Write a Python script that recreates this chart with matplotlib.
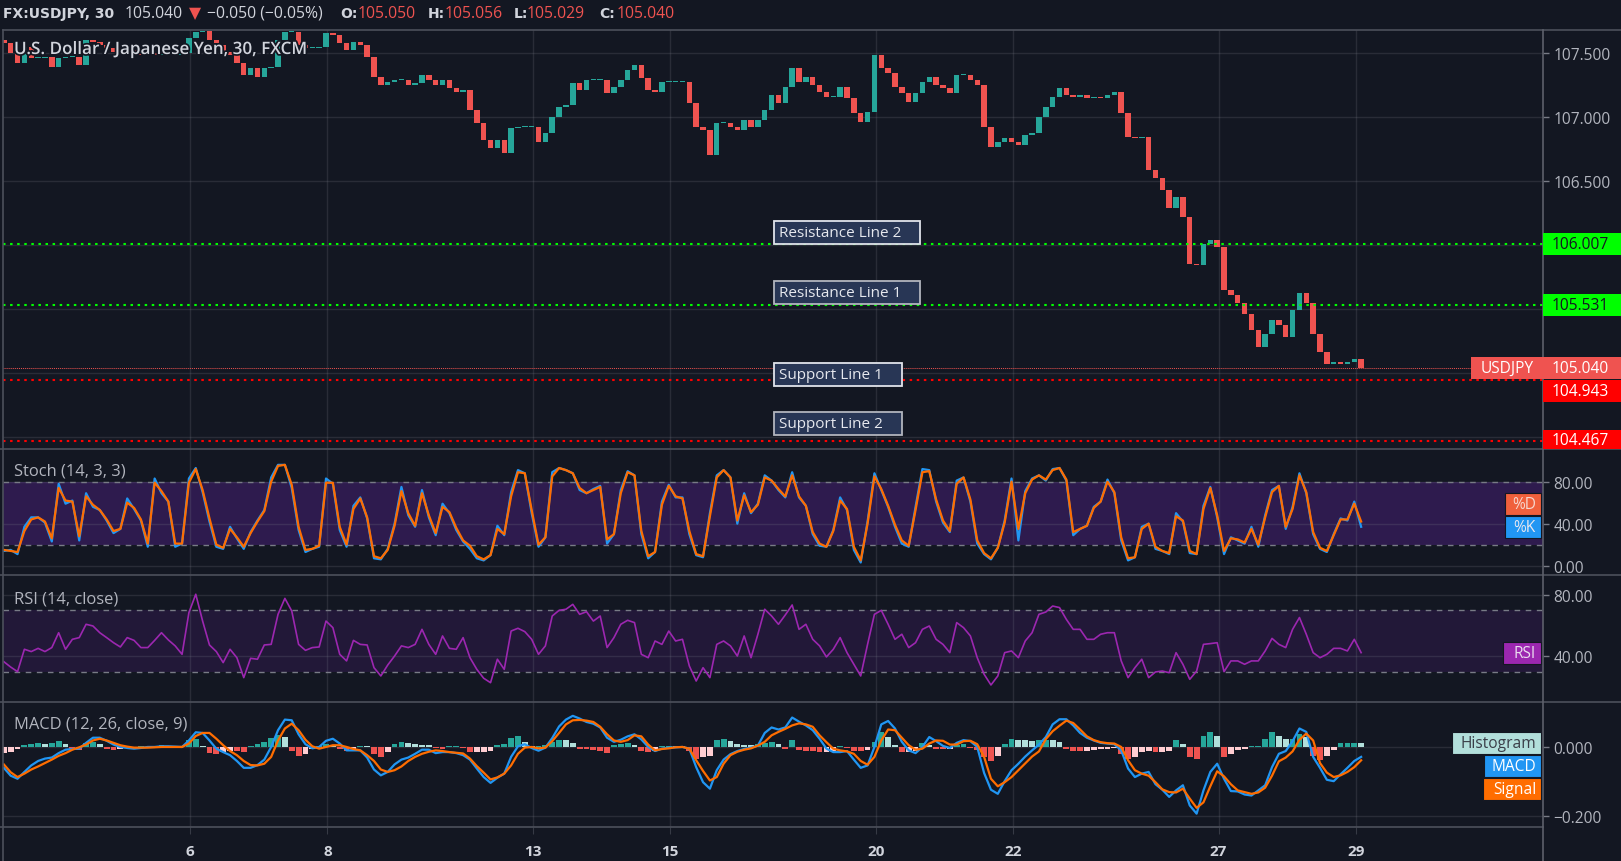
import matplotlib
matplotlib.use('Agg')
import matplotlib.pyplot as plt
import matplotlib.patheffects as pe
from matplotlib.patches import Rectangle
from matplotlib.lines import Line2D
import numpy as np

W, H = 1621, 862
BG = '#131722'
GRIDC = '#787b86'
SEP = '#4c505b'
TXT = '#b2b5be'
UP, DOWN = '#26a69a', '#ef5350'
plt.rcParams['font.family'] = ['Open Sans', 'DejaVu Sans']

# ---- data: USDJPY 30m, read every 0.1 trading day (x = trading days from Oct 6) ----
T0, STEP = -2.72, 0.1
day_ticks = [0, 2, 5, 7, 10, 12, 15, 17]
day_labels = ['6', '8', '13', '15', '20', '22', '27', '29']

first_open = 107.60
close_px = [
    107.573, 107.495, 107.417, 107.547, 107.456, 107.456, 107.469, 107.390, 107.456, 107.469,
    107.469, 107.404, 107.599, 107.586, 107.560, 107.534, 107.508, 107.508, 107.521, 107.495,
    107.482, 107.495, 107.482, 107.495, 107.482, 107.482, 107.495, 107.612, 107.664, 107.672,
    107.599, 107.560, 107.508, 107.482, 107.417, 107.325, 107.377, 107.312, 107.377, 107.390,
    107.599, 107.664, 107.664, 107.560, 107.534, 107.534, 107.547, 107.651, 107.638, 107.573,
    107.521, 107.586, 107.560, 107.469, 107.312, 107.247, 107.273, 107.286, 107.286, 107.247,
    107.260, 107.325, 107.286, 107.247, 107.286, 107.221, 107.195, 107.208,
    107.052, 106.948, 106.818, 106.753, 106.818, 106.713, 106.909, 106.922, 106.922, 106.922,
    106.805, 106.870, 107.000, 107.078, 107.091, 107.260, 107.208, 107.286, 107.286, 107.286,
    107.182, 107.234, 107.286, 107.365, 107.404, 107.299, 107.208, 107.195, 107.273, 107.273,
    107.273, 107.273, 107.104, 106.922, 106.896, 106.700, 106.948, 106.948, 106.922, 106.896,
    106.974, 106.922, 106.974, 107.052, 107.169, 107.104, 107.234, 107.378, 107.273, 107.312,
    107.247, 107.195, 107.156, 107.156, 107.234, 107.143, 107.026, 106.961, 107.039, 107.480,
    107.378, 107.339, 107.234,
    107.182, 107.117, 107.182, 107.273, 107.312, 107.247, 107.221, 107.182, 107.325, 107.325,
    107.286, 107.247, 106.922, 106.765, 106.805, 106.831, 106.805, 106.778, 106.857, 106.870,
    107.000, 107.078, 107.156, 107.221, 107.169, 107.156, 107.169, 107.143, 107.156, 107.143,
    107.169, 107.195, 107.026, 106.844, 106.831, 106.844, 106.583, 106.518, 106.427, 106.284,
    106.375, 106.219, 105.854, 105.841, 106.010, 106.036, 105.984, 105.646, 105.607, 105.542,
    105.463, 105.333, 105.203, 105.307, 105.411, 105.372, 105.281, 105.490, 105.620, 105.542,
    105.307, 105.164, 105.073, 105.086, 105.073, 105.086, 105.112, 105.040,
]

stoch_k = [
    14, 15, 11, 37, 46, 46, 41, 23, 78, 59, 62, 24, 69, 56, 53, 43, 31, 35, 64, 54,
    43, 18, 83, 69, 61, 18, 21, 83, 93, 70, 42, 18, 16, 37, 26, 16, 32, 43, 53, 84,
    96, 96, 74, 34, 13, 16, 18, 83, 78, 34, 18, 57, 65, 45, 7, 6, 16, 40, 75, 48,
    37, 72, 46, 29, 59, 50, 34, 23,
    16, 7, 5, 10, 38, 29, 70, 91, 88, 50, 18, 27, 89, 93, 91, 88, 72, 69, 73, 76,
    21, 30, 72, 90, 86, 30, 7, 13, 61, 77, 65, 65, 30, 10, 8, 50, 86, 91, 84, 40,
    69, 50, 59, 86, 81, 72, 65, 89, 65, 57, 30, 19, 18, 34, 65, 53, 15, 3, 42, 88,
    72, 56, 37,
    21, 18, 56, 92, 91, 61, 41, 32, 81, 84, 61, 21, 11, 6, 17, 43, 83, 24, 71, 83,
    86, 81, 92, 93, 81, 29, 35, 38, 56, 61, 82, 69, 24, 5, 8, 37, 40, 16, 14, 11,
    50, 42, 12, 11, 57, 75, 46, 11, 27, 24, 21, 37, 18, 48, 72, 76, 35, 56, 88, 69,
    30, 16, 13, 30, 45, 43, 61, 37,
]
stoch_d = [
    15, 14, 13, 33, 44, 46, 42, 26, 74, 62, 61, 28, 66, 58, 53, 44, 33, 35, 60, 55,
    44, 21, 79, 71, 61, 21, 21, 79, 92, 72, 45, 20, 17, 35, 27, 18, 31, 42, 52, 80,
    95, 96, 77, 37, 15, 16, 19, 79, 79, 37, 20, 54, 64, 46, 9, 7, 15, 38, 71, 50,
    38, 69, 48, 31, 56, 51, 36, 24,
    19, 9, 6, 10, 35, 30, 66, 89, 88, 53, 20, 27, 85, 93, 91, 88, 74, 69, 72, 75,
    25, 30, 69, 89, 86, 33, 9, 13, 58, 76, 66, 64, 33, 11, 9, 47, 84, 91, 84, 43,
    67, 51, 58, 84, 81, 73, 66, 86, 66, 57, 32, 21, 18, 33, 62, 54, 18, 5, 40, 85,
    73, 57, 39,
    24, 19, 53, 89, 90, 63, 43, 33, 78, 84, 63, 24, 12, 7, 17, 41, 80, 35, 69, 82,
    86, 82, 91, 93, 82, 32, 35, 38, 55, 61, 80, 70, 27, 7, 8, 35, 40, 18, 14, 12,
    47, 43, 14, 11, 54, 74, 48, 14, 26, 25, 22, 35, 20, 46, 70, 76, 37, 54, 86, 70,
    32, 17, 14, 29, 44, 44, 59, 42,
]

rsi = [
    36.5, 33.0, 30.0, 44.6, 43.1, 45.2, 43.1, 45.7, 55.4, 44.6, 51.1, 52.2, 60.9, 59.8, 55.4,
    52.2, 48.9, 46.1, 52.2, 50.4, 45.7, 45.7, 50.4, 55.4, 50.7, 46.8, 41.3, 68.5, 80.5, 63.0,
    47.4, 43.1, 35.9, 44.6, 39.1, 26.1, 38.7, 38.1, 47.4, 47.8, 67.4, 77.8, 69.6, 47.8, 43.9,
    45.7, 46.1, 63.0, 58.7, 41.3, 37.0, 50.4, 47.8, 47.4, 32.6, 27.2, 34.3, 40.2, 46.8, 45.7,
    47.8, 57.6, 47.8, 41.3, 53.3, 45.2, 44.6, 52.2,
    39.1, 31.5, 25.7, 22.8, 38.1, 31.5, 56.5, 58.3, 56.1, 51.1, 41.3, 46.8, 66.3, 70.0, 70.7,
    73.9, 67.4, 69.1, 63.0, 66.3, 45.7, 52.2, 60.9, 63.5, 62.0, 41.3, 39.1, 50.0, 47.8, 56.5,
    50.0, 51.1, 33.7, 23.9, 32.6, 26.1, 47.8, 50.0, 46.8, 40.2, 53.3, 39.1, 54.4, 70.7, 66.3,
    60.9, 67.0, 73.5, 57.6, 60.9, 51.1, 46.8, 39.6, 44.6, 52.2, 42.4, 34.8, 27.2, 47.8, 67.4,
    70.0, 60.9, 51.1,
    54.4, 45.7, 48.9, 57.6, 59.8, 51.1, 47.8, 42.4, 62.0, 58.7, 53.3, 39.1, 28.3, 21.3, 27.2,
    42.4, 43.5, 39.1, 50.0, 55.4, 67.4, 68.9, 72.8, 71.8, 64.1, 57.6, 57.6, 51.1, 51.1, 54.4,
    55.4, 55.4, 37.0, 26.1, 32.6, 38.1, 26.1, 29.8, 30.4, 29.3, 42.4, 34.8, 25.0, 30.4, 47.8,
    48.3, 48.9, 30.0, 37.0, 37.0, 34.8, 37.0, 37.0, 43.5, 51.7, 47.8, 45.7, 57.6, 65.3, 54.4,
    42.4, 39.1, 41.3, 45.2, 45.2, 43.5, 51.1, 42.4,
]

macd = [
    -0.060, -0.083, -0.092, -0.072, -0.053, -0.040, -0.033, -0.030, -0.017, -0.007,
    -0.005, -0.004, 0.013, 0.028, 0.028, 0.019, 0.008, 0.001, -0.002, -0.004,
    -0.002, 0.001, 0.001, 0.003, 0.003, 0.002, 0.001, 0.020, 0.044, 0.042,
    0.020, -0.004, -0.014, -0.023, -0.040, -0.060, -0.060, -0.052, -0.036, 0.001,
    0.050, 0.081, 0.079, 0.038, 0.009, -0.003, 0.001, 0.019, 0.025, 0.011,
    -0.009, -0.009, -0.009, -0.030, -0.065, -0.082, -0.072, -0.050, -0.036, -0.030,
    -0.019, -0.007, -0.007, -0.017, -0.014, -0.014, -0.017, -0.023,
    -0.036, -0.062, -0.087, -0.104, -0.089, -0.077, -0.028, 0.003, 0.009, -0.002,
    -0.010, -0.001, 0.027, 0.061, 0.081, 0.092, 0.084, 0.074, 0.069, 0.058,
    0.028, 0.016, 0.022, 0.032, 0.038, 0.023, 0.001, -0.011, -0.004, -0.001,
    0.000, 0.001, -0.004, -0.058, -0.102, -0.121, -0.067, -0.036, -0.020, -0.011,
    -0.005, -0.001, 0.005, 0.042, 0.058, 0.052, 0.058, 0.087, 0.075, 0.064,
    0.050, 0.025, -0.004, -0.014, -0.014, -0.011, -0.036, -0.060, -0.053, 0.001,
    0.067, 0.077, 0.055,
    0.016, -0.009, -0.017, 0.001, 0.030, 0.018, 0.004, -0.002, 0.013, 0.021,
    0.018, 0.001, -0.075, -0.124, -0.136, -0.099, -0.067, -0.048, -0.027, -0.009,
    0.008, 0.030, 0.067, 0.082, 0.082, 0.064, 0.042, 0.028, 0.020, 0.013,
    0.011, 0.009, -0.009, -0.062, -0.087, -0.077, -0.072, -0.108, -0.124, -0.145,
    -0.126, -0.111, -0.170, -0.194, -0.126, -0.072, -0.048, -0.092, -0.128, -0.129,
    -0.138, -0.141, -0.126, -0.111, -0.058, -0.019, -0.011, 0.018, 0.055, 0.045,
    -0.028, -0.060, -0.095, -0.099, -0.079, -0.060, -0.040, -0.028,
]
signal = [
    -0.050, -0.073, -0.087, -0.077, -0.065, -0.056, -0.046, -0.036, -0.025, -0.017,
    -0.007, 0.000, 0.008, 0.020, 0.025, 0.020, 0.013, 0.006, 0.002, -0.001,
    -0.001, -0.001, 0.000, 0.001, 0.001, 0.001, 0.001, 0.011, 0.033, 0.042,
    0.042, 0.025, 0.006, -0.011, -0.023, -0.040, -0.052, -0.053, -0.048, -0.028,
    0.020, 0.055, 0.069, 0.050, 0.022, 0.003, -0.004, 0.001, 0.006, 0.006,
    0.001, -0.005, -0.009, -0.023, -0.040, -0.065, -0.072, -0.067, -0.056, -0.040,
    -0.028, -0.019, -0.013, -0.009, -0.011, -0.014, -0.016, -0.018,
    -0.033, -0.055, -0.074, -0.094, -0.088, -0.077, -0.053, -0.019, -0.001, 0.001,
    -0.003, -0.001, 0.018, 0.042, 0.067, 0.079, 0.080, 0.078, 0.074, 0.060,
    0.038, 0.020, 0.016, 0.021, 0.035, 0.032, 0.008, -0.009, -0.005, -0.003,
    0.000, 0.001, -0.004, -0.038, -0.069, -0.097, -0.087, -0.048, -0.023, -0.013,
    -0.007, -0.003, 0.005, 0.016, 0.035, 0.045, 0.054, 0.064, 0.070, 0.067,
    0.060, 0.035, 0.015, -0.004, -0.009, -0.012, -0.019, -0.040, -0.051, -0.028,
    0.020, 0.052, 0.050,
    0.028, 0.006, -0.007, -0.004, 0.011, 0.020, 0.019, 0.008, 0.008, 0.018,
    0.019, 0.009, -0.028, -0.092, -0.114, -0.102, -0.087, -0.067, -0.047, -0.027,
    -0.012, 0.024, 0.047, 0.063, 0.078, 0.071, 0.052, 0.032, 0.021, 0.015,
    0.012, 0.011, 0.001, -0.038, -0.067, -0.077, -0.083, -0.102, -0.123, -0.131,
    -0.132, -0.121, -0.150, -0.177, -0.161, -0.114, -0.070, -0.085, -0.108, -0.126,
    -0.131, -0.136, -0.132, -0.118, -0.083, -0.041, -0.030, -0.012, 0.022, 0.040,
    0.020, -0.046, -0.074, -0.087, -0.082, -0.072, -0.058, -0.038,
]
hist = [
    -0.018, -0.015, -0.005, 0.006, 0.010, 0.012, 0.010, 0.012, 0.018, 0.010,
    -0.006, -0.008, 0.012, 0.015, 0.010, -0.005, -0.008, -0.004, 0.003, 0.002,
    0.003, 0.002, 0.004, 0.006, 0.005, 0.003, 0.003, 0.020, 0.024, 0.005,
    -0.018, -0.020, -0.015, -0.010, -0.012, -0.015, 0.005, 0.010, 0.015, 0.027,
    0.037, 0.031, -0.010, -0.024, -0.020, -0.005, 0.005, 0.010, 0.008, -0.005,
    -0.010, -0.006, 0.005, 0.003, -0.020, -0.027, -0.015, 0.010, 0.015, 0.012,
    0.010, 0.008, 0.006, -0.003, -0.004, 0.003, 0.004, -0.003,
    -0.015, -0.015, -0.014, -0.012, 0.006, 0.010, 0.027, 0.033, 0.015, 0.003,
    0.004, 0.008, 0.015, 0.021, 0.020, 0.012, -0.004, -0.006, -0.008, -0.010,
    -0.016, 0.008, 0.010, 0.012, 0.006, -0.010, -0.015, -0.012, 0.004, 0.005,
    0.004, 0.003, -0.010, -0.034, -0.029, -0.024, 0.020, 0.024, 0.018, 0.010,
    0.008, 0.006, 0.010, 0.012, 0.015, 0.010, -0.005, 0.020, -0.008, -0.010,
    -0.012, -0.015, -0.014, -0.012, 0.005, -0.003, -0.010, -0.012, -0.008, 0.015,
    0.044, 0.029, 0.008,
    -0.015, -0.015, -0.010, 0.012, 0.008, -0.005, -0.006, -0.004, 0.008, 0.010,
    -0.003, -0.008, -0.029, -0.041, -0.024, 0.010, 0.024, 0.021, 0.020, 0.018,
    0.020, 0.021, 0.020, 0.015, -0.005, -0.010, -0.012, -0.010, -0.008, -0.006,
    -0.004, -0.003, -0.020, -0.034, -0.027, -0.015, -0.012, -0.015, -0.015, -0.010,
    0.020, 0.010, -0.029, -0.034, 0.034, 0.044, 0.034, -0.029, -0.020, -0.008,
    -0.006, 0.005, 0.005, 0.024, 0.044, 0.034, 0.024, 0.024, 0.039, 0.029,
    -0.024, -0.037, -0.024, -0.008, 0.012, 0.012, 0.014, 0.012,
]

level_names = ['Resistance Line 2', 'Resistance Line 1', 'Support Line 1', 'Support Line 2']
level_values = [106.007, 105.531, 104.943, 104.467]
level_colors = ['#00ff00', '#00ff00', '#ff0000', '#ff0000']
note_prices = [106.094, 105.629, 104.988, 104.605]   # where the text notes sit
note_day = 8.515
last_price = 105.040

# ---------------------------------------------------------------------------
def xs(series):
    return T0 + STEP * np.arange(len(series))

fig = plt.figure(figsize=(W / 100, H / 100), dpi=100, facecolor=BG)

def fx(x):
    return x / W

def fy(y):
    return 1 - y / H

def panel(top, bottom, ylim, yticks, ylabels):
    ax = fig.add_axes([fx(3), fy(bottom), 1540 / W, (bottom - top) / H], facecolor=BG)
    ax.set_xlim(-2.732, 19.733)
    ax.set_ylim(*ylim)
    for s in ax.spines.values():
        s.set_visible(False)
    ax.set_xticks(day_ticks)
    ax.set_yticks(yticks)
    ax.set_yticklabels(ylabels)
    ax.grid(True, color=GRIDC, alpha=0.22, lw=1)
    ax.yaxis.tick_right()
    ax.tick_params(axis='y', length=4, width=1, color='#787b86', pad=3.5,
                   labelsize=11.2, labelcolor=TXT)
    ax.tick_params(axis='x', length=0, labelbottom=False)
    return ax

ax_p = panel(31, 450, (104.406, 107.677), [104.5, 105.0, 105.5, 106.0, 106.5, 107.0, 107.5],
             ['', '', '', '', '106.500', '107.000', '107.500'])
ax_s = panel(450, 576, (-8.9, 111.1), [0, 40, 80], ['0.00', '40.00', '80.00'])
ax_r = panel(576, 702.7, (10.4, 93.05), [40, 80], ['40.00', '80.00'])
ax_m = panel(702.7, 828, (-0.233, 0.1333), [-0.2, 0.0], ['\u22120.200', '0.000'])

# ---- candles ----
c = np.array(close_px)
o = np.concatenate([[first_open], c[:-1]])
ccol = [UP if cc >= oo else DOWN for oo, cc in zip(o, c)]
ax_p.bar(xs(c), np.maximum(np.abs(c - o), 0.008), bottom=np.minimum(o, c), width=0.08,
         color=ccol, linewidth=0, zorder=3)

for v, col in zip(level_values, level_colors):
    ax_p.axhline(v, color=col, lw=1.5, ls=(0, (1.2, 2.2)), zorder=4)
ax_p.axhline(last_price, color='#ef5350', lw=0.7, ls=(0, (1, 1)), zorder=4)

# ---- stochastic ----
ax_s.axhspan(20, 80, color='#2e1b4e', zorder=0.5, lw=0)
for v in (20, 80):
    ax_s.axhline(v, color='#787b86', lw=1, ls=(0, (4, 4)), zorder=1.6)
ax_s.plot(xs(stoch_k), stoch_k, color='#2196f3', lw=1.6, zorder=3)
ax_s.plot(xs(stoch_d), stoch_d, color='#ff6d00', lw=1.6, zorder=3)

# ---- RSI ----
ax_r.axhspan(30, 70, color='#221838', zorder=0.5, lw=0)
for v in (30, 70):
    ax_r.axhline(v, color='#787b86', lw=1, ls=(0, (4, 4)), zorder=1.6)
ax_r.plot(xs(rsi), rsi, color='#9c27b0', lw=1.2, zorder=3)

# ---- MACD ----
hv = np.array(hist)
prev = np.concatenate([[hv[0]], hv[:-1]])
hcol = []
for v, p in zip(hv, prev):
    if v >= 0:
        hcol.append('#26a69a' if v >= p else '#b2dfdb')
    else:
        hcol.append('#ef5350' if v < p else '#ffcdd2')
ax_m.bar(xs(hv), hv, width=0.085, color=hcol, linewidth=0, zorder=2)
ax_m.plot(xs(macd), macd, color='#2196f3', lw=1.6, zorder=3)
ax_m.plot(xs(signal), signal, color='#ff6d00', lw=1.6, zorder=3)

ax_m.tick_params(axis='x', length=5, color='#363a45', pad=7, labelbottom=True,
                 labelsize=11, labelcolor='#d1d4dc')
ax_m.set_xticklabels(day_labels, fontweight='bold')

# ---- frame lines ----
def fline(x0, x1, y0, y1, color=SEP, lw=1.2):
    fig.add_artist(Line2D([fx(x0), fx(x1)], [fy(y0), fy(y1)], color=color, lw=lw,
                          transform=fig.transFigure, zorder=6))

fline(3, W, 31, 31)
for y in (450, 576, 702.7):
    fline(0, W, y, y)
fline(0, 1543, 828, 828)
fline(1543, 1543, 31, H, color='#5d606b')
fline(3, 3, 31, H, color='#4c505b')

# ---- helpers for labels ----
def ypix(ax, v):
    return H - ax.transData.transform((0, v))[1]

def fig_box(x0, x1, y0, y1, face, edge='none', lw=0, z=7):
    fig.add_artist(Rectangle((fx(x0), fy(y1)), (x1 - x0) / W, (y1 - y0) / H,
                             transform=fig.transFigure, facecolor=face, edgecolor=edge,
                             lw=lw, zorder=z))

BOXH = 22
LBL = 11.2
# last price
yl = ypix(ax_p, last_price)
fig_box(1471, W, yl - BOXH / 2, yl + BOXH / 2, '#ef5350')
fig.text(fx(1481), fy(yl), 'USDJPY', color='white', va='center', fontsize=LBL, zorder=8)
fig.text(fx(1552), fy(yl), f'{last_price:.3f}', color='white', va='center', fontsize=LBL, zorder=8)
last_bottom = yl + BOXH / 2

for v, col in zip(level_values, level_colors):
    yc = ypix(ax_p, v)
    if abs(yc - yl) < BOXH:
        yc = last_bottom + BOXH / 2 + 1
    y0, y1 = yc - BOXH / 2, min(yc + BOXH / 2, 450)
    fig_box(1543, W, y0, y1, col)
    tc = '#131722' if col == '#00ff00' else 'white'
    fig.text(fx(1552), fy((y0 + y1) / 2), f'{v:.3f}', color=tc, va='center', fontsize=LBL, zorder=8)

# text notes on the price pane
renderer = fig.canvas.get_renderer()
edges = ['#e0e3eb', '#b2b5be', '#e0e3eb', '#b2b5be']
for name, pr, ed in zip(level_names, note_prices, edges):
    px = ax_p.transData.transform((note_day, pr))
    x0, yc = px[0], H - px[1]
    t = fig.text(fx(x0 + 5), fy(yc), name, color='#e6e8ee', va='center', fontsize=11, zorder=8)
    wpx = t.get_window_extent(renderer).width
    fig_box(x0, x0 + wpx + 24, yc - 11.5, yc + 11.5, '#283655', ed, 1.3)

# right-side indicator tags
def tag(ax, value, text, face, tcolor, width, offset=0):
    yc = ypix(ax, value) + offset
    fig_box(1541 - width, 1541, yc - BOXH / 2, yc + BOXH / 2, face, '#131722', 0.8)
    fig.text(fx(1536), fy(yc), text, color=tcolor, va='center', ha='right', fontsize=LBL, zorder=8)

tag(ax_s, stoch_k[-1], '%K', '#2196f3', '#e8e8f0', 36)
tag(ax_s, stoch_k[-1], '%D', '#f0603c', '#f6d8d0', 36, offset=-BOXH - 1)
tag(ax_r, rsi[-1], 'RSI', '#9c27b0', '#eadcef', 38)
tag(ax_m, hist[-1], 'Histogram', '#b2dfdb', '#3a3e48', 89)
tag(ax_m, hist[-1], 'MACD', '#2196f3', 'white', 57, offset=BOXH + 1)
tag(ax_m, hist[-1], 'Signal', '#ff6d00', 'white', 58, offset=2 * (BOXH + 1))

# ---- titles ----
fig.text(fx(14), fy(51), 'U.S. Dollar / Japanese Yen, 30, FXCM', color='#d1d4dc', fontsize=12.3,
         fontweight='semibold', va='center', zorder=8,
         path_effects=[pe.withStroke(linewidth=2.5, foreground=BG)])
for label, y in (('Stoch (14, 3, 3)', 472), ('RSI (14, close)', 599), ('MACD (12, 26, close, 9)', 725)):
    fig.text(fx(14), fy(y), label, color=TXT, fontsize=11.9, va='center', zorder=8)

header = [
    ('FX:USDJPY, 30', 3, True, '#d1d4dc'),
    ('105.040', 125, False, '#d1d4dc'),
    ('\u25bc', 189, False, '#ef5350'),
    ('\u22120.050 (\u22120.05%)', 207, False, '#d1d4dc'),
    ('O:', 340, True, '#d1d4dc'), ('105.050', 358, False, '#ef5350'),
    ('H:', 428, True, '#d1d4dc'), ('105.056', 445, False, '#ef5350'),
    ('L:', 514, True, '#d1d4dc'), ('105.029', 527, False, '#ef5350'),
    ('C:', 599, True, '#d1d4dc'), ('105.040', 617, False, '#ef5350'),
]
for txt, x, bold, col in header:
    if bold:
        fig.text(fx(x), fy(14), txt, color=col, fontweight='bold', fontsize=10,
                 family=['DejaVu Sans'], va='center')
    else:
        fig.text(fx(x), fy(14), txt, color=col, fontsize=11.3, va='center')

fig.savefig('out.png', dpi=100, facecolor=BG)
